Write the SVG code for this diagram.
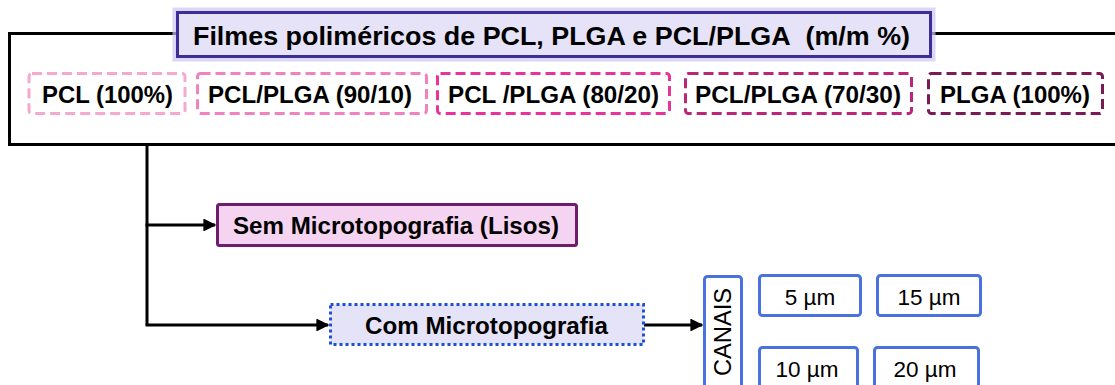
<svg xmlns="http://www.w3.org/2000/svg" width="1115" height="385" viewBox="0 0 1115 385">
<defs>
<style>
.b{font-family:"Liberation Sans",Arial,sans-serif;font-weight:bold;fill:#000}
.r{font-family:"Liberation Sans",Arial,sans-serif;fill:#000}
.comp{fill:#fff;stroke-width:3;stroke-dasharray:10 5}
.ch{fill:#fff;stroke:#4a72dc;stroke-width:3}
.ln{fill:none;stroke:#000;stroke-width:3}
</style>
<marker id="ah" viewBox="0 0 10 10" refX="9" refY="5" markerWidth="4.3" markerHeight="4.3" orient="auto" markerUnits="strokeWidth">
<path d="M0,0 L10,5 L0,10 z" fill="#000"/>
</marker>
</defs>
<rect width="1115" height="385" fill="#fff"/>
<g id="frame">
<path class="ln" d="M1120,33.5 H9.5 V144.5 H1120"/>
</g>
<g id="title">
<rect x="175" y="10" width="758" height="49" fill="none" stroke="#cfc6f3" stroke-width="5" opacity="0.7"/>
<rect x="177.5" y="12.5" width="753" height="44" fill="#e6e3f8" stroke="#3d2d96" stroke-width="3"/>
<text class="b" x="193" y="44.5" font-size="25.5" textLength="717" lengthAdjust="spacingAndGlyphs">Filmes poliméricos de PCL, PLGA e PCL/PLGA&#160; (m/m %)</text>
</g>
<g id="pcl100">
<rect class="comp" x="29" y="73.5" width="156" height="40" rx="3" stroke="#f4a9d0"/>
<text class="b" x="42" y="102.5" font-size="23.5" textLength="131" lengthAdjust="spacingAndGlyphs">PCL (100%)</text>
</g>
<g id="pcl9010">
<rect class="comp" x="197.5" y="73.5" width="229" height="40" rx="3" stroke="#ef82bf"/>
<text class="b" x="208" y="102.5" font-size="23.5" textLength="204" lengthAdjust="spacingAndGlyphs">PCL/PLGA (90/10)</text>
</g>
<g id="pcl8020">
<rect class="comp" x="437.5" y="73.5" width="232" height="40" rx="3" stroke="#e8349a"/>
<text class="b" x="448" y="102.5" font-size="23.5" textLength="211" lengthAdjust="spacingAndGlyphs">PCL /PLGA (80/20)</text>
</g>
<g id="pcl7030">
<rect class="comp" x="685.5" y="73.5" width="226" height="40" rx="3" stroke="#b9277b"/>
<text class="b" x="695" y="102.5" font-size="23.5" textLength="206" lengthAdjust="spacingAndGlyphs">PCL/PLGA (70/30)</text>
</g>
<g id="plga100">
<rect class="comp" x="928.5" y="73.5" width="174" height="40" rx="3" stroke="#7a1b55"/>
<text class="b" x="940" y="102.5" font-size="23.5" textLength="150" lengthAdjust="spacingAndGlyphs">PLGA (100%)</text>
</g>
<g id="connectors">
<path class="ln" d="M147,146 V325"/>
<path class="ln" d="M145.5,225 H215" marker-end="url(#ah)"/>
<path class="ln" d="M145.5,325 H328" marker-end="url(#ah)"/>
<path class="ln" d="M644,325 H702" marker-end="url(#ah)"/>
</g>
<g id="sem">
<rect x="217.5" y="204.5" width="359" height="41" rx="2" fill="#f5d4f1" stroke="#6e1c6c" stroke-width="3"/>
<text class="b" x="233" y="233.5" font-size="23.5" textLength="326" lengthAdjust="spacingAndGlyphs">Sem Microtopografia (Lisos)</text>
</g>
<g id="com">
<rect x="330.5" y="304.5" width="313" height="40" fill="#e5e3f7" stroke="#1d4fd8" stroke-width="3" stroke-dasharray="3 3"/>
<text class="b" x="365" y="333.5" font-size="23.5" textLength="243" lengthAdjust="spacingAndGlyphs">Com Microtopografia</text>
</g>
<g id="canais">
<rect class="ch" x="704.5" y="276.5" width="37" height="130" rx="3"/>
<text class="r" transform="translate(731,376) rotate(-90)" font-size="24" textLength="88" lengthAdjust="spacingAndGlyphs">CANAIS</text>
</g>
<g id="c5">
<rect class="ch" x="759.5" y="275.5" width="101" height="40" rx="3"/>
<text class="r" x="810" y="305" font-size="22.5" text-anchor="middle">5 µm</text>
</g>
<g id="c15">
<rect class="ch" x="877.5" y="275.5" width="103" height="40" rx="3"/>
<text class="r" x="929" y="305" font-size="22.5" text-anchor="middle">15 µm</text>
</g>
<g id="c10">
<rect class="ch" x="759.5" y="347.5" width="98" height="50" rx="3"/>
<text class="r" x="807" y="377" font-size="22.5" text-anchor="middle">10 µm</text>
</g>
<g id="c20">
<rect class="ch" x="874.5" y="347.5" width="104" height="50" rx="3"/>
<text class="r" x="925" y="377" font-size="22.5" text-anchor="middle">20 µm</text>
</g>
</svg>
